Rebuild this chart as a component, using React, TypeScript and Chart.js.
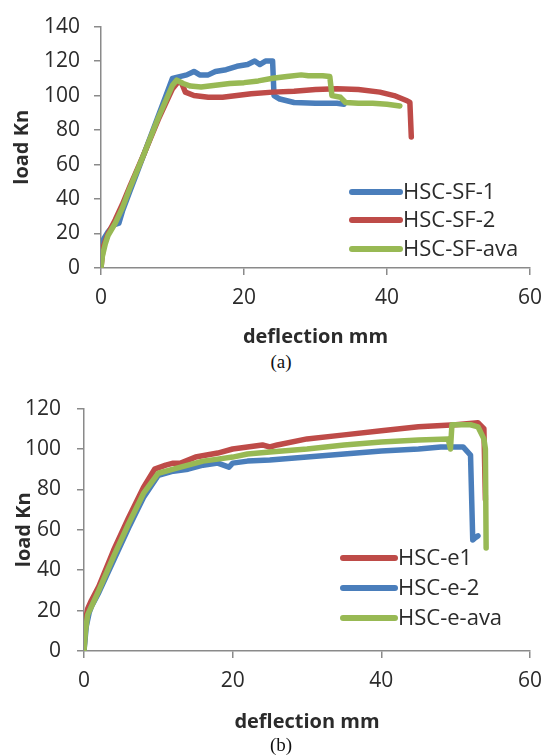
import React, { useEffect, useRef } from "react";
import { Chart, registerables } from "chart.js";

Chart.register(...registerables);

const FONT = "'Open Sans', 'Liberation Sans', sans-serif";
const SERIF = "'Liberation Serif', 'Times New Roman', serif";
const BLUE = "#4A7EBB";
const RED = "#BE4B48";
const GREEN = "#98B954";
const AXIS = "#8A8A8A";
const TEXT = "#2B2B2B";

// ---------- Chart (a) ----------
const aLabels = ["HSC-SF-1", "HSC-SF-2", "HSC-SF-ava"];
const aXTicks = [0, 20, 40, 60];
const aYTicks = [0, 20, 40, 60, 80, 100, 120, 140];

const sf1Deflection = [0, 0.4, 1, 1.8, 2.5, 3, 4, 5, 6, 7, 8, 9, 10, 11, 12, 13, 13.8, 15, 16, 17.5, 19, 20.5, 21.5, 22.2, 23, 24, 24.2, 25, 27, 30, 33, 34];
const sf1Load = [13, 17, 21, 25, 26, 33, 44, 55, 66, 77, 88, 99, 110, 111, 112, 114, 112, 112, 114, 115, 117, 118, 120, 118, 120, 120, 100, 98, 96, 95.5, 95.5, 95];

const sf2Deflection = [0, 0.3, 1, 2, 3, 4, 6, 8, 10, 10.8, 11.3, 11.8, 13, 15, 17, 19, 21, 24, 27, 30, 33, 36, 39, 41, 42.8, 43.2, 43.4];
const sf2Load = [0, 12, 20, 28, 37, 47, 66, 86, 104, 108, 107, 102, 100, 99, 99, 100, 101, 102, 102.5, 103.5, 104, 103.5, 102, 100, 97, 96, 76];

const sfAvaDeflection = [0, 0.2, 0.6, 1, 2, 3, 4, 6, 8, 10, 10.6, 11.5, 12.5, 14, 16, 18, 20, 22, 24, 26, 28, 29, 30, 31, 32, 32.3, 33.5, 34.2, 36, 38, 40, 41.8];
const sfAvaLoad = [0, 7, 14, 19, 26, 35, 46, 66, 87, 106, 109, 107, 105.5, 105, 106, 107, 107.5, 108.5, 110, 111, 112, 111.5, 111.5, 111.5, 111, 100, 99, 96, 95.5, 95.5, 95, 94];

// ---------- Chart (b) ----------
const bLabels = ["HSC-e1", "HSC-e-2", "HSC-e-ava"];
const bXTicks = [0, 20, 40, 60];
const bYTicks = [0, 20, 40, 60, 80, 100, 120];

const e1Deflection = [0, 0.2, 0.5, 1, 2, 4, 6, 8, 9.5, 11, 12, 13, 15, 18, 20, 22, 24, 25, 26, 30, 35, 40, 45, 50, 53, 53.8, 54];
const e1Load = [0, 15, 21, 25, 32, 50, 66, 81, 90, 92, 93, 93, 96, 98, 100, 101, 102, 101, 102, 105, 107, 109, 111, 112, 113, 110, 75];

const e2Deflection = [0, 0.3, 0.7, 1, 2, 4, 6, 8, 10, 12, 14, 16, 18, 19.5, 20, 22, 25, 30, 35, 40, 45, 48, 51, 52, 52.3, 52.6, 53];
const e2Load = [0, 12, 19, 22, 29, 45, 61, 76, 87, 89, 90, 92, 93, 91, 93, 94, 94.5, 96, 97.5, 99, 100, 101, 101, 97, 55, 56, 57];

const eAvaDeflection = [0, 0.2, 0.5, 1, 2, 4, 6, 8, 10, 12, 14, 16, 18, 20, 22, 25, 30, 35, 40, 45, 49, 49.3, 49.5, 52, 53, 53.8, 54, 54.1];
const eAvaLoad = [0, 10, 18, 22, 30, 47, 63, 78, 88, 90, 92, 94, 95, 96, 97.5, 98.5, 100, 102, 103.5, 104.5, 105, 100, 112, 112, 111, 105, 100, 51];

type Series = { label: string; xs: number[]; ys: number[]; color: string; order: number };

function pts(xs: number[], ys: number[]) {
  return xs.map((x, i) => ({ x, y: ys[i] }));
}

type PanelProps = {
  series: Series[];
  xTicks: number[];
  yTicks: number[];
  top: number;
  height: number;
  area: { left: number; right: number; top: number; bottom: number };
  yTickPad: number;
  yTitlePad: number;
  xTickPad: number;
  xTitlePad: number;
  legend: { x1: number; x2: number; xt: number; ys: number[] };
};

function Panel(p: PanelProps) {
  const ref = useRef<HTMLCanvasElement | null>(null);
  useEffect(() => {
    if (!ref.current) return;
    const W = 552;
    const legendPlugin = {
      id: "insideLegend",
      afterDraw(chart: any) {
        const ctx = chart.ctx;
        ctx.save();
        p.series.forEach((s, i) => {
          const y = p.legend.ys[i];
          ctx.strokeStyle = s.color;
          ctx.lineWidth = 6;
          ctx.lineCap = "round";
          ctx.beginPath();
          ctx.moveTo(p.legend.x1, y);
          ctx.lineTo(p.legend.x2, y);
          ctx.stroke();
          ctx.fillStyle = TEXT;
          ctx.font = `22px ${FONT}`;
          ctx.textBaseline = "middle";
          ctx.textAlign = "left";
          ctx.fillText(s.label, p.legend.xt, y + 1);
        });
        ctx.restore();
      },
    };
    const chart = new Chart(ref.current, {
      type: "line",
      data: {
        datasets: p.series.map((s) => ({
          label: s.label,
          data: pts(s.xs, s.ys),
          borderColor: s.color,
          backgroundColor: s.color,
          borderWidth: 5.5,
          pointRadius: 0,
          tension: 0,
          borderJoinStyle: "round" as const,
          borderCapStyle: "round" as const,
          order: s.order,
        })),
      },
      options: {
        responsive: false,
        animation: false,
        layout: {
          padding: { left: 0, top: p.area.top, right: W - p.area.right, bottom: 0 },
        },
        plugins: { legend: { display: false }, tooltip: { enabled: false } },
        scales: {
          x: {
            type: "linear",
            min: p.xTicks[0],
            max: p.xTicks[p.xTicks.length - 1],
            afterBuildTicks: (scale: any) => {
              scale.ticks = p.xTicks.map((v) => ({ value: v }));
            },
            afterFit: (scale: any) => {
              scale.height = p.height - p.area.bottom;
            },
            grid: { display: true, drawOnChartArea: false, drawTicks: true, tickLength: 7, color: AXIS, lineWidth: 1.5 },
            border: { display: true, color: AXIS, width: 1.5 },
            ticks: { color: TEXT, font: { family: FONT, size: 21 }, padding: p.xTickPad, maxRotation: 0 },
            title: {
              display: true,
              text: "deflection mm",
              color: TEXT,
              font: { family: FONT, size: 20, weight: "bold" },
              padding: { top: 0, bottom: p.xTitlePad },
            },
          },
          y: {
            type: "linear",
            min: p.yTicks[0],
            max: p.yTicks[p.yTicks.length - 1],
            afterBuildTicks: (scale: any) => {
              scale.ticks = p.yTicks.map((v) => ({ value: v }));
            },
            afterFit: (scale: any) => {
              scale.width = p.area.left;
            },
            grid: { display: true, drawOnChartArea: false, drawTicks: true, tickLength: 7, color: AXIS, lineWidth: 1.5 },
            border: { display: true, color: AXIS, width: 1.5 },
            ticks: { color: TEXT, font: { family: FONT, size: 21 }, padding: p.yTickPad },
            title: {
              display: true,
              text: "load Kn",
              color: TEXT,
              font: { family: FONT, size: 20, weight: "bold" },
              padding: { top: p.yTitlePad, bottom: 0 },
            },
          },
        },
      },
      plugins: [legendPlugin],
    });
    return () => chart.destroy();
  }, []);
  return (
    <canvas
      ref={ref}
      width={552}
      height={p.height}
      style={{ position: "absolute", left: 0, top: p.top, width: 552, height: p.height }}
    />
  );
}

const captionStyle = (top: number): React.CSSProperties => ({
  position: "absolute",
  left: 231,
  width: 100,
  top,
  textAlign: "center",
  fontFamily: SERIF,
  fontSize: 19,
  lineHeight: "20px",
  color: "#111",
});

export default function App() {
  const aSeries: Series[] = [
    { label: aLabels[0], xs: sf1Deflection, ys: sf1Load, color: BLUE, order: 2 },
    { label: aLabels[1], xs: sf2Deflection, ys: sf2Load, color: RED, order: 1 },
    { label: aLabels[2], xs: sfAvaDeflection, ys: sfAvaLoad, color: GREEN, order: 0 },
  ];
  const bSeries: Series[] = [
    { label: bLabels[0], xs: e1Deflection, ys: e1Load, color: RED, order: 2 },
    { label: bLabels[1], xs: e2Deflection, ys: e2Load, color: BLUE, order: 1 },
    { label: bLabels[2], xs: eAvaDeflection, ys: eAvaLoad, color: GREEN, order: 0 },
  ];
  return (
    <div style={{ position: "absolute", left: 0, top: 0, width: 552, height: 755, background: "#fff" }}>
      <Panel
        series={aSeries}
        xTicks={aXTicks}
        yTicks={aYTicks}
        top={0}
        height={350}
        area={{ left: 101, right: 532, top: 16, bottom: 268 }}
        yTickPad={14}
        yTitlePad={10}
        xTickPad={10}
        xTitlePad={1}
        legend={{ x1: 352, x2: 400, xt: 403, ys: [192, 220, 249] }}
      />
      <div style={captionStyle(352)}>(a)</div>
      <Panel
        series={bSeries}
        xTicks={bXTicks}
        yTicks={bYTicks}
        top={380}
        height={355}
        area={{ left: 84, right: 533, top: 18, bottom: 271 }}
        yTickPad={16}
        yTitlePad={12}
        xTickPad={10}
        xTitlePad={1}
        legend={{ x1: 343, x2: 395, xt: 398, ys: [178, 208, 238] }}
      />
      <div style={captionStyle(735)}>(b)</div>
    </div>
  );
}
